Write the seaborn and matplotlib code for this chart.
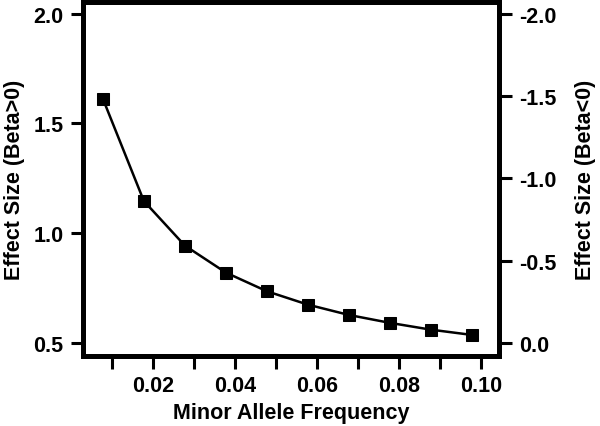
import numpy as np
import pandas as pd
import matplotlib
matplotlib.use("Agg")
import matplotlib.pyplot as plt
import seaborn as sns

# --- DATA ---
maf = [0.0078, 0.0178, 0.0278, 0.0378, 0.0478, 0.0578, 0.0678, 0.0778, 0.0878, 0.0978]
effect_size = [1.612, 1.146, 0.943, 0.820, 0.735, 0.674, 0.627, 0.591, 0.560, 0.536]
x_ticks = [0.02, 0.04, 0.06, 0.08, 0.10]
left_ticks = [0.5, 1.0, 1.5, 2.0]
right_ticks = [0.0, -0.5, -1.0, -1.5, -2.0]

df = pd.DataFrame({"maf": maf, "beta": effect_size})

sns.set_theme(style="white", rc={"text.color": "black", "axes.labelcolor": "black",
                                 "xtick.color": "black", "ytick.color": "black"})
plt.rcParams['font.family'] = ['Liberation Sans', 'DejaVu Sans']
plt.rcParams['font.weight'] = 'bold'

fs = 15.5
fig = plt.figure(figsize=(6.0, 4.27), dpi=100)
ax = fig.add_axes([0.138, 0.164, 0.694, 0.830])

sns.lineplot(data=df, x="maf", y="beta", ax=ax, color="black", linewidth=1.8,
             marker="s", markersize=9, markeredgecolor="black", markerfacecolor="black")

y_lo, y_hi = 0.44, 2.055
ax.set_xlim(0.0029, 0.1045)
ax.set_ylim(y_lo, y_hi)
ax.set_xticks(np.arange(0.01, 0.1001, 0.01), minor=True)
ax.set_xticks(x_ticks)
ax.set_xticklabels([f"{t:.2f}" for t in x_ticks])
ax.set_yticks(left_ticks)
ax.set_yticklabels([f"{t:.1f}" for t in left_ticks])

# right axis: Beta<0 mirrored scale
to_right = lambda v: -(v - 0.5) * 4 / 3
ax2 = ax.twinx()
ax2.set_ylim(to_right(y_lo), to_right(y_hi))
ax2.set_yticks(right_ticks)
ax2.set_yticklabels([f"{t:.1f}" for t in right_ticks])

for a in (ax, ax2):
    for s in a.spines.values():
        s.set_linewidth(3.5)
        s.set_color("black")
    a.tick_params(axis="both", which="both", direction="out", length=9, width=2.2,
                  color="black", labelcolor="black", labelsize=fs, pad=5)
ax.tick_params(axis="y", left=True, right=False)
ax.tick_params(axis="x", bottom=True, which="both")
ax2.tick_params(axis="y", right=True, left=False)

for lbl in ax.get_xticklabels() + ax.get_yticklabels() + ax2.get_yticklabels():
    lbl.set_fontweight("bold")

ax.set_xlabel("Minor Allele Frequency", fontsize=fs, fontweight="bold", color="black", labelpad=4)
ax.set_ylabel("Effect Size (Beta>0)", fontsize=fs, fontweight="bold", color="black", labelpad=6)
ax2.set_ylabel("Effect Size (Beta<0)", fontsize=fs, fontweight="bold", color="black", labelpad=14)

fig.savefig("out.png", dpi=100)
